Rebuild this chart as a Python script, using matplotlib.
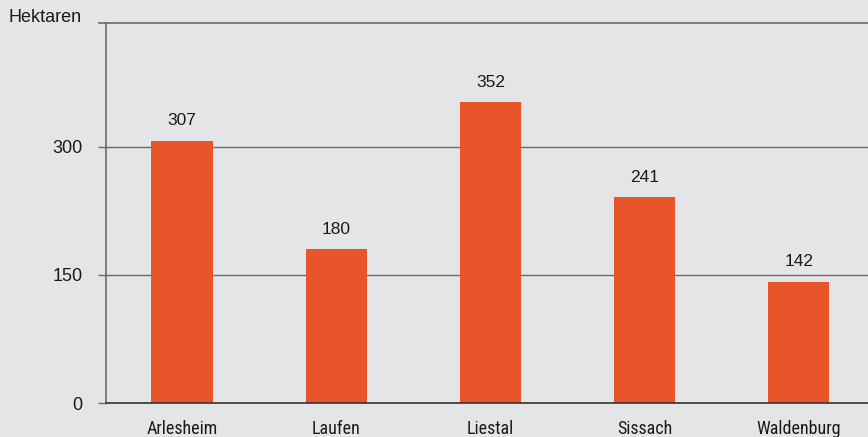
import matplotlib
matplotlib.use('Agg')
import matplotlib.pyplot as plt
from matplotlib import font_manager

# Bezirke und Werte (Hektaren)
bezirke = ['Arlesheim', 'Laufen', 'Liestal', 'Sissach', 'Waldenburg']
hektaren = [307, 180, 352, 241, 142]
y_ticks = [0, 150, 300]

bg = '#e4e5e7'
bar_color = '#e8552a'
line_color = '#6a6a6a'

# schmale Schrift fuer die Bezirksnamen, falls vorhanden
names = {f.name for f in font_manager.fontManager.ttflist}
narrow = 'Liberation Sans'
for cand in ['Liberation Sans Narrow', 'Roboto Condensed', 'DejaVu Sans Condensed',
             'Open Sans Condensed', 'Noto Sans Condensed']:
    if cand in names:
        narrow = cand
        break
plt.rcParams['font.family'] = ['Liberation Sans', 'DejaVu Sans']

fig = plt.figure(figsize=(8.68, 4.37), dpi=100)
fig.patch.set_facecolor(bg)
ax = fig.add_axes([106 / 868, 1 - 403 / 437, 1 - 106 / 868, (403 - 22.7) / 437])
ax.set_facecolor(bg)

x = list(range(len(bezirke)))
ax.bar(x, hektaren, width=0.40, color=bar_color, zorder=3)

for xi, v in zip(x, hektaren):
    ax.annotate(str(v), (xi, v), xytext=(0, 11), textcoords='offset points',
                ha='center', va='baseline', fontsize=12.5, color='#1a1a1a')

ax.set_xlim(-0.495, 4.45)
ax.set_ylim(0, 445)

ax.set_yticks(y_ticks)
ax.set_yticklabels([str(t) for t in y_ticks], fontsize=13, color='#1a1a1a')
ax.tick_params(axis='y', length=5.8, width=1.0, color=line_color, pad=11)
for t in y_ticks[1:]:
    ax.axhline(t, color=line_color, lw=1.0, zorder=1)

ax.set_xticks(x)
lbl_size = 13 if narrow != 'Liberation Sans' else 11.5
ax.set_xticklabels(bezirke, fontsize=lbl_size, family=narrow, color='#1a1a1a')
ax.tick_params(axis='x', length=0, pad=12)

ax.spines['right'].set_visible(False)
ax.spines['top'].set_visible(False)
ax.spines['left'].set_color(line_color)
ax.spines['left'].set_linewidth(1.2)
ax.spines['bottom'].set_color('#333333')
ax.spines['bottom'].set_linewidth(1.2)
ax.spines['bottom'].set_zorder(4)

# obere Linie, leicht nach links verlaengert
ax.plot([-0.009, 1], [1, 1], transform=ax.transAxes, color=line_color,
        lw=1.2, clip_on=False)

fig.text(8 / 868, 1 - 17 / 437, 'Hektaren', fontsize=13, va='center',
         ha='left', color='#1a1a1a')

fig.savefig('out.png', dpi=100, facecolor=bg)
